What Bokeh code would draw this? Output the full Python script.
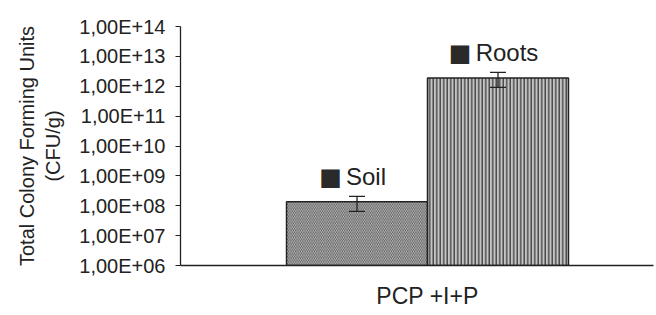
from bokeh.plotting import figure
from bokeh.models import (Range1d, FixedTicker, CustomJSTickFormatter, ColumnDataSource,
                          Whisker, TeeHead)
from bokeh.core.properties import value
from bokeh.embed import file_html
from bokeh.resources import INLINE

# ---- data ----
group = "PCP +I+P"
series = ["Soil", "Roots"]
cfu = [1.35e8, 1.9e12]
err_lower = [6.5e7, 9.2e11]
err_upper = [2.05e8, 2.9e12]
y_ticks = [1e6, 1e7, 1e8, 1e9, 1e10, 1e11, 1e12, 1e13, 1e14]
y_title = "Total Colony Forming Units\n(CFU/g)"

# ---- styling ----
FONT = "Liberation Sans"
TXT = "#222222"
LBL_SIZE = 24
# approximate Arial advance widths (em) for label layout
CW = {"S": .667, "o": .556, "i": .222, "l": .222, "R": .722, "t": .278, "s": .5}
SQ, GAP = 17, 7

xpos = [-0.5, 0.5]          # bars placed either side of the group centre
hatches = ["\\", "|"]
fills = ["#cccccc", "#c4c4c4"]
hatch_cols = ["#3a3a3a", "#3a3a3a"]
hatch_w = [0.8, 1.3]

word_off, sq_off = [], []
for s in series:
    ww = sum(CW.get(c, .556) for c in s) * LBL_SIZE
    left = -(SQ + GAP + ww) / 2 - 3
    word_off.append(left + SQ + GAP)
    sq_off.append(left + SQ / 2)

src = ColumnDataSource(dict(x=xpos, top=cfu, lo=err_lower, hi=err_upper,
                            hatch=hatches, fill=fills, hcol=hatch_cols, hw=hatch_w,
                            label=series, sq=["\u25A0"] * len(series),
                            woff=word_off, soff=sq_off,
                            bottom=[y_ticks[0]] * len(series)))

p = figure(width=654, height=311, y_axis_type="log",
           x_range=Range1d(-1.752, 1.603), y_range=Range1d(y_ticks[0], y_ticks[-1]),
           output_backend="svg", toolbar_location=None,
           min_border_left=180, min_border_right=1, min_border_top=26, min_border_bottom=42)
p.outline_line_color = None
p.grid.visible = False
p.background_fill_color = "white"

p.vbar(x="x", width=1.0, top="top", bottom="bottom", source=src,
       fill_color="fill", hatch_pattern="hatch", hatch_color="hcol",
       hatch_scale=3.5, hatch_weight="hw",
       line_color="#222222", line_width=1.5)

w = Whisker(base="x", lower="lo", upper="hi", source=src, line_color="#222222",
            line_width=1.3, level="overlay",
            upper_head=TeeHead(size=16, line_color="#222222", line_width=1.3),
            lower_head=TeeHead(size=16, line_color="#222222", line_width=1.3))
p.add_layout(w)

p.text(x="x", y="top", text="label", source=src, x_offset="woff", y_offset=-25,
       text_align="left", text_baseline="middle",
       text_font=value(FONT), text_font_size=f"{LBL_SIZE}px", text_color=TXT)
p.text(x="x", y="top", text="sq", source=src, x_offset="soff", y_offset=-25,
       text_align="center", text_baseline="middle",
       text_font=value("DejaVu Sans"), text_font_size="24px", text_color="#2a2a2a")

# y axis
ya = p.yaxis[0]
ya.ticker = FixedTicker(ticks=y_ticks, minor_ticks=[])
ya.formatter = CustomJSTickFormatter(code="""
const e = Math.round(Math.log10(tick));
return "1,00E+" + (e < 10 ? "0" : "") + e;
""")
ya.major_tick_out = 5
ya.major_tick_in = 0
ya.minor_tick_out = 0
ya.minor_tick_in = 0
ya.major_label_standoff = 10
ya.major_label_text_font = FONT
ya.major_label_text_font_size = "20px"
ya.major_label_text_color = TXT
ya.axis_label = y_title
ya.axis_label_text_font = FONT
ya.axis_label_text_font_size = "20px"
ya.axis_label_text_font_style = "normal"
ya.axis_label_text_color = TXT
ya.axis_label_standoff = 12
ya.axis_line_color = "#222222"
ya.major_tick_line_color = "#222222"
ya.axis_line_width = 1.3

# x axis
xa = p.xaxis[0]
xa.ticker = FixedTicker(ticks=[0], minor_ticks=[])
xa.major_label_overrides = {0: group}
xa.major_tick_out = 0
xa.major_tick_in = 0
xa.minor_tick_out = 0
xa.major_label_standoff = 17
xa.major_label_text_font = FONT
xa.major_label_text_font_size = "23px"
xa.major_label_text_color = TXT
xa.axis_line_color = "#222222"
xa.axis_line_width = 1.3

open("out.html", "w").write(file_html(p, INLINE))
